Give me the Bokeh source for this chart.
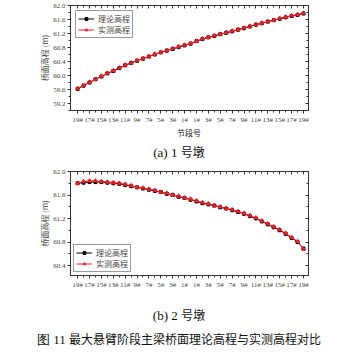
from bokeh.plotting import figure
from bokeh.models import (FixedTicker, LinearAxis, Range1d, Div, Legend, LegendItem,
                          CustomJSTickFormatter, NumeralTickFormatter)
from bokeh.layouts import column
from bokeh.embed import file_html
from bokeh.resources import INLINE

# ---------------- data ----------------
segments = ["19#", "18#", "17#", "16#", "15#", "14#", "13#", "12#", "11#", "10#",
            "9#", "8#", "7#", "6#", "5#", "4#", "3#", "2#", "1#", "0#",
            "1#", "2#", "3#", "4#", "5#", "6#", "7#", "8#", "9#", "10#",
            "11#", "12#", "13#", "14#", "15#", "16#", "17#", "18#", "19#"]
tick_labels = ["19#", "17#", "15#", "13#", "11#", "9#", "7#", "5#", "3#", "1#",
               "1#", "3#", "5#", "7#", "9#", "11#", "13#", "15#", "17#", "19#"]

pier1_theory = [59.62, 59.71, 59.80, 59.89, 59.97, 60.06, 60.13, 60.21, 60.29, 60.36,
                60.42, 60.48, 60.54, 60.60, 60.66, 60.71, 60.76, 60.81, 60.86, 60.91,
                60.98, 61.04, 61.09, 61.13, 61.18, 61.22, 61.26, 61.31, 61.35, 61.40,
                61.45, 61.49, 61.54, 61.58, 61.62, 61.66, 61.70, 61.73, 61.77]
pier1_measured = [59.63, 59.72, 59.81, 59.89, 59.98, 60.06, 60.14, 60.22, 60.30, 60.36,
                  60.43, 60.49, 60.55, 60.61, 60.66, 60.72, 60.77, 60.82, 60.87, 60.92,
                  60.98, 61.05, 61.09, 61.14, 61.18, 61.23, 61.27, 61.31, 61.36, 61.41,
                  61.46, 61.50, 61.54, 61.58, 61.63, 61.67, 61.71, 61.74, 61.78]

pier2_theory = [61.80, 61.81, 61.82, 61.82, 61.82, 61.81, 61.80, 61.79, 61.77, 61.75,
                61.73, 61.71, 61.69, 61.67, 61.65, 61.62, 61.60, 61.57, 61.55, 61.52,
                61.49, 61.46, 61.44, 61.42, 61.39, 61.37, 61.34, 61.31, 61.28, 61.24,
                61.20, 61.15, 61.10, 61.05, 61.00, 60.94, 60.87, 60.80, 60.69]
pier2_measured = [61.80, 61.83, 61.84, 61.84, 61.83, 61.82, 61.81, 61.80, 61.78, 61.76,
                  61.73, 61.72, 61.70, 61.68, 61.65, 61.63, 61.60, 61.58, 61.55, 61.53,
                  61.50, 61.47, 61.45, 61.42, 61.40, 61.37, 61.35, 61.32, 61.29, 61.25,
                  61.21, 61.16, 61.11, 61.06, 61.01, 60.95, 60.88, 60.81, 60.68]

series_names = ["理论高程", "实测高程"]
x_title = "节段号"
y_title = "桥面高程 (m)"
captions = [("(a) 1", "号墩"), ("(b) 2", "号墩")]
fig_title = ("图 11", "最大悬臂阶段主梁桥面理论高程与实测高程对比")

SERIF = "Liberation Serif"
CJK = "Noto Sans CJK SC"
RED = "#e8202a"
AX = "#333333"

x_idx = list(range(len(segments)))
major_ticks = [i for i in x_idx if i != 19 and i % 2 == 0]
label_map = {str(t): lab for t, lab in zip(major_ticks, tick_labels)}


def style_axis(ax, inward=False, labels=True):
    ax.axis_line_color = AX
    ax.major_tick_line_color = AX
    ax.minor_tick_line_color = AX
    if inward:
        ax.major_tick_in, ax.major_tick_out = 3, 0
        ax.minor_tick_in, ax.minor_tick_out = 2, 0
    else:
        ax.major_tick_in, ax.major_tick_out = 0, 3
        ax.minor_tick_in, ax.minor_tick_out = 0, 2
    ax.major_label_text_font = SERIF
    ax.major_label_text_font_size = "7px"
    ax.major_label_standoff = 2
    if not labels:
        ax.major_label_text_font_size = "0px"
        ax.major_label_text_color = None
        ax.major_label_standoff = 0


def make_fig(height, border_top, border_bottom, yr, yticks, theory, measured,
             legend_loc, legend_margin):
    p = figure(width=358, height=height, output_backend="svg", toolbar_location=None,
               min_border_left=70, min_border_right=50, min_border_top=border_top,
               min_border_bottom=border_bottom, title=None,
               x_range=Range1d(-1.2, 38.85), y_range=Range1d(*yr))
    p.outline_line_color = AX
    p.grid.visible = False
    bottom = p.below[0]
    left = p.left[0]

    yminor = [round(yticks[0] - 0.2 + 0.2 * k, 1) for k in range(2 * len(yticks) + 1)]
    yminor = [v for v in yminor if yr[0] <= v <= yr[1]]
    bottom.ticker = FixedTicker(ticks=major_ticks, minor_ticks=x_idx)
    bottom.formatter = CustomJSTickFormatter(args=dict(m=label_map),
                                             code="return m[String(tick)] || '';")
    left.ticker = FixedTicker(ticks=yticks, minor_ticks=yminor)
    left.formatter = NumeralTickFormatter(format="0.0")
    style_axis(bottom)
    style_axis(left)

    top = LinearAxis(ticker=FixedTicker(ticks=major_ticks, minor_ticks=x_idx))
    style_axis(top, inward=True, labels=False)
    p.add_layout(top, "above")
    right = LinearAxis(ticker=FixedTicker(ticks=yticks, minor_ticks=yminor))
    style_axis(right, inward=True, labels=False)
    p.add_layout(right, "right")

    l1 = p.line(x_idx, theory, line_color="black", line_width=1)
    s1 = p.scatter(x_idx, theory, marker="square", size=3, color="black")
    l2 = p.line(x_idx, measured, line_color=RED, line_width=1)
    s2 = p.scatter(x_idx, measured, marker="triangle", size=4, color=RED)

    leg = Legend(items=[LegendItem(label=series_names[0], renderers=[l1, s1]),
                        LegendItem(label=series_names[1], renderers=[l2, s2])],
                 location=legend_loc)
    leg.label_text_font = CJK
    leg.label_text_font_size = "8px"
    leg.label_height = 7
    leg.glyph_height = 7
    leg.glyph_width = 16
    leg.spacing = 0
    leg.padding = 2
    leg.margin = legend_margin
    leg.label_standoff = 4
    leg.border_line_color = AX
    leg.border_line_width = 1
    p.add_layout(leg)

    left.axis_label = y_title
    left.axis_label_text_font = CJK
    left.axis_label_text_font_size = "8px"
    left.axis_label_text_font_style = "normal"
    left.axis_label_standoff = 0
    return p, bottom


def text_div(parts, height):
    html = (f'<span style="font-family:\'{SERIF}\';font-size:13px">{parts[0]}</span>'
            f' <span style="font-family:\'{CJK}\';font-size:12px">{parts[1]}</span>')
    return Div(text=html, width=358, height=height,
               styles={"text-align": "center", "line-height": f"{height}px",
                       "color": "#111111", "margin": "0", "padding": "0",
                       "white-space": "nowrap"})


p1, b1 = make_fig(126, 5, 14, (59.0, 62.0), [59.2, 59.6, 60.0, 60.4, 60.8, 61.2, 61.6, 62.0],
                  pier1_theory, pier1_measured, "top_left", 5)

div_x = Div(text=f'<span style="position:relative;left:10px">{x_title}</span>',
            width=358, height=14,
            styles={"text-align": "center", "line-height": "14px", "font-size": "8px",
                    "font-family": CJK, "color": "#222222", "margin": "0", "padding": "0"})
div_a = text_div(captions[0], 24)

p2, b2 = make_fig(138, 7, 27, (60.23, 62.0), [60.4, 60.8, 61.2, 61.6, 62.0],
                  pier2_theory, pier2_measured, "bottom_left", 3)

div_b = text_div(captions[1], 26)
div_t = text_div(fig_title, 22)

layout = column(p1, div_x, div_a, p2, div_b, div_t, spacing=0)
open("out.html", "w").write(file_html(layout, INLINE))
